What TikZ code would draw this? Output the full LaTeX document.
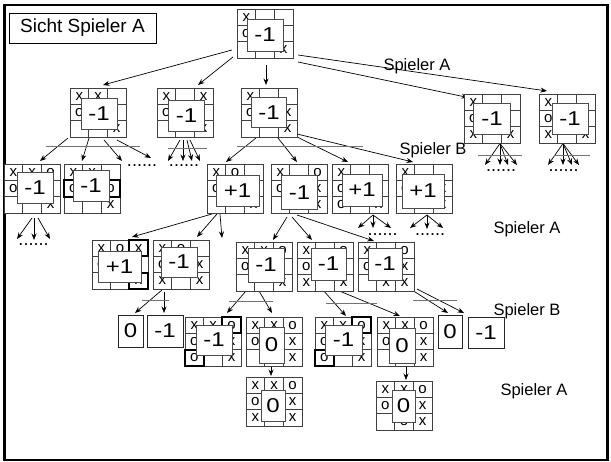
\documentclass[tikz,border=0pt]{standalone}
\usepackage{fontspec}
\usepackage{graphicx}
\setmainfont{Liberation Sans}
\usetikzlibrary{calc,arrows.meta}
\pgfdeclarelayer{bg}
\pgfsetlayers{bg,main}
\tikzset{
  board/.style={draw=black!75, fill=white, line width=0.8pt, minimum width=56pt, minimum height=49pt, inner sep=0pt, outer sep=0pt},
  gridln/.style={draw=black!75, line width=0.8pt},
  cellt/.style={font=\fontsize{15}{15}\selectfont, inner sep=0pt},
  thickcell/.style={draw=black, line width=1.8pt},
  ov/.style={draw=black!70, fill=white, line width=0.8pt, inner sep=0pt, font=\fontsize{20}{20}\selectfont},
  leaf/.style={draw=black!85, fill=white, line width=0.8pt, inner sep=0pt, font=\fontsize{20}{20}\selectfont},
  arr/.style={-{Stealth[length=6.5pt,width=5pt]}, line width=0.7pt},
  cutln/.style={draw=black!55, line width=1pt},
  dotsl/.style={font=\fontsize{18}{18}\selectfont, inner sep=0pt},
  lbl/.style={font=\fontsize{16.5}{16.5}\selectfont, inner sep=0pt}
}
\newcommand\vtxt[1]{\scalebox{1.2}[1]{#1}}
\newcommand\Bd[4]{%
  \node[board] (#1) at (#2+28,#3+24.5) {};
  \draw[gridln] (#2+56/3,#3) -- (#2+56/3,#3+49)
                (#2+112/3,#3) -- (#2+112/3,#3+49)
                (#2,#3+49/3) -- (#2+56,#3+49/3)
                (#2,#3+98/3) -- (#2+56,#3+98/3);
  \foreach \bR/\bC/\bL in {#4}{\node[cellt] at (#2+\bC*56/3+28/3,#3+\bR*49/3+49/6) {\bL};}%
}
\newcommand\Th[3]{\foreach \bR/\bC in {#3}{\draw[thickcell] (#1+\bC*56/3,#2+\bR*49/3) rectangle ++(56/3,49/3);}}
\newcommand\Ov[7]{\node[ov,minimum width=#6pt,minimum height=#7pt] (#1) at ($(#2)+(#4,#5)$) {\vtxt{#3}};}
\begin{document}
\begin{tikzpicture}[x=1pt,y=-1pt]
\useasboundingbox (0,0) rectangle (611,462);
\draw[line width=2.6pt] (4.5,5) rectangle (607.5,460);
\node[draw, line width=0.8pt, minimum width=147pt, minimum height=30pt, inner sep=0pt, font=\fontsize{19}{19}\selectfont] (title) at (82.5,28) {Sicht Spieler A};

% boards
\Bd{root}{237}{9}{0/0/x,1/0/o,2/2/x} \Ov{vroot}{root}{-1}{0}{1.5}{36}{32}
\Bd{n1a}{70}{88}{0/0/x,0/1/x,1/0/o,2/2/x} \Ov{v1a}{n1a}{-1}{1}{1}{36}{31}
\Bd{n1b}{157}{88}{0/0/x,0/2/x,1/0/o,2/2/x} \Ov{v1b}{n1b}{-1}{1.5}{3}{36}{31}
\Bd{n1c}{241}{88}{0/0/x,1/0/o,1/2/x,2/2/x} \Ov{v1c}{n1c}{-1}{0}{0}{35}{30}
\Bd{n1d}{464}{94}{0/0/x,1/0/o,2/0/x,2/2/x} \Ov{v1d}{n1d}{-1}{0}{0}{37}{31}
\Bd{n1e}{539}{94}{0/0/x,1/0/o,2/0/x,2/2/x} \Ov{v1e}{n1e}{-1}{3}{0}{36}{31}
\Bd{n2a}{4}{164}{0/0/x,0/1/x,0/2/o,1/0/o,2/2/x} \Ov{v2a}{n2a}{-1}{3}{-1}{36}{31}
\Bd{n2b}{64}{164}{0/0/x,0/1/x,1/0/o,1/2/o,2/2/x} \Th{64}{164}{1/0,1/2} \Ov{v2b}{n2b}{-1}{-1}{-3}{36}{31}
\Bd{n2c}{207}{164}{0/0/x,0/1/o,1/0/o,2/2/x} \Ov{v2c}{n2c}{+1}{2.5}{2}{43}{31}
\Bd{n2d}{271}{164}{0/0/x,0/2/o,1/0/o,1/2/x,2/2/x} \Ov{v2d}{n2d}{-1}{0.5}{4}{36}{34}
\Bd{n2e}{332}{164}{0/0/x,1/0/o,2/0/o,2/2/x} \Ov{v2e}{n2e}{+1}{2}{1.5}{40}{32}
\Bd{n2f}{396}{164}{0/0/x,1/0/o,1/2/x,2/1/o,2/2/x} \Ov{v2f}{n2f}{+1}{-1}{2.5}{42}{34}
\Bd{n3a}{92}{240}{0/0/x,0/1/o,0/2/x,1/0/o,2/2/x} \Th{92}{240}{0/2,2/2} \Ov{v3a}{n3a}{+1}{-0.5}{2}{43}{31}
\Bd{n3b}{153}{240}{0/0/x,0/1/o,1/0/o,1/2/x,2/0/x,2/2/x} \Ov{v3b}{n3b}{-1}{-2}{-2.5}{36}{30}
\Bd{n3c}{236}{242}{0/0/x,0/1/x,0/2/o,1/0/o,2/2/x} \Ov{v3c}{n3c}{-1}{2}{-1.5}{36}{34}
\Bd{n3d}{297}{242}{0/0/x,0/2/o,1/0/o,1/2/x,2/0/x,2/2/x} \Ov{v3d}{n3d}{-1}{3.5}{-2.5}{35}{32}
\Bd{n3e}{358}{242}{0/0/x,0/2/o,1/0/o,1/2/x,2/1/x,2/2/x} \Ov{v3e}{n3e}{-1}{-1}{-2.5}{34}{32}
\Bd{n4a}{185}{317}{0/0/x,0/1/x,0/2/o,1/0/o,1/2/x,2/0/o,2/2/x} \Th{185}{317}{0/2,2/0} \Ov{v4a}{n4a}{-1}{1}{-1.5}{36}{30}
\Bd{n4b}{246}{317}{0/0/x,0/1/x,0/2/o,1/0/o,1/2/x,2/1/o,2/2/x} \Ov{v4b}{n4b}{0}{-2.5}{3.5}{25}{36}
\Bd{n4c}{315}{317}{0/0/x,0/1/x,0/2/o,1/0/o,1/2/x,2/0/o,2/2/x} \Th{315}{317}{0/2,2/0} \Ov{v4c}{n4c}{-1}{0.5}{-1.5}{37}{30}
\Bd{n4d}{377}{317}{0/0/x,0/1/x,0/2/o,1/0/o,1/2/x,2/1/o,2/2/x} \Ov{v4d}{n4d}{0}{-3}{4}{26}{35}
\Bd{n5a}{246}{377}{0/0/x,0/1/x,0/2/o,1/0/o,1/2/x,2/0/x,2/1/o,2/2/x} \Ov{v5a}{n5a}{0}{-1}{4}{24}{31}
\Bd{n5b}{376}{381}{0/0/x,0/1/x,0/2/o,1/0/o,1/2/x,2/1/o,2/2/x} \Ov{v5b}{n5b}{0}{-0.5}{0.5}{23}{32}

% leaf values
\node[leaf,minimum width=25pt,minimum height=32pt] (l1) at (130.5,331) {\vtxt{0}};
\node[leaf,minimum width=36pt,minimum height=32pt] (l2) at (165,331) {\vtxt{-1}};
\node[leaf,minimum width=24pt,minimum height=33pt] (l3) at (450,331.5) {\vtxt{0}};
\node[leaf,minimum width=36pt,minimum height=31pt] (l4) at (486,332.5) {\vtxt{-1}};

% labels
\node[lbl] (sa1) at (417,66) {Spieler A};
\node[lbl] (sb1) at (433,150) {Spieler B};
\node[lbl] (sa2) at (527,229) {Spieler A};
\node[lbl] (sb2) at (527,311) {Spieler B};
\node[lbl] (sa3) at (534,391) {Spieler A};

% dots
\node[dotsl] (d1) at (142,166) {......};
\node[dotsl] (d2) at (184,166) {......};
\node[dotsl] (d3) at (501,171) {......};
\node[dotsl] (d4) at (563.5,171) {......};
\node[dotsl] (d5) at (33.5,245) {......};
\node[dotsl] (d6) at (382.5,235) {......};
\node[dotsl] (d7) at (430,235) {......};

% free ends
\coordinate (e1) at (122,161); \coordinate (e2) at (151,158);
\coordinate (e3) at (168,161); \coordinate (e4) at (183,161); \coordinate (e5) at (192,161); \coordinate (e6) at (200,161);
\coordinate (e7) at (485,165); \coordinate (e8) at (500,165); \coordinate (e9) at (508,165); \coordinate (e10) at (517,165);
\coordinate (e11) at (548,165); \coordinate (e12) at (563,165); \coordinate (e13) at (572,165); \coordinate (e14) at (579,165);
\coordinate (e15) at (17,239); \coordinate (e16) at (34,240); \coordinate (e17) at (50,239);
\coordinate (e18) at (222,238);
\coordinate (e19) at (358,228); \coordinate (e20) at (373,228); \coordinate (e21) at (391,228);
\coordinate (e22) at (410,228); \coordinate (e23) at (427,229); \coordinate (e24) at (443,228);

\begin{pgfonlayer}{bg}
% root
\draw[arr] ($(root)+(-33,16.5)$) -- ($(n1a)+(5,-27.5)$);
\draw[arr] ($(root)+(-32,23.5)$) -- ($(n1b)+(13,-27.5)$);
\draw[arr] ($(root)+(1,31.5)$) -- ($(n1c)+(-3,-27.5)$);
\draw[arr] ($(root)+(33,28.5)$) -- ($(n1d)+(-24,-21)$);
\draw[arr] ($(root)+(33,21.5)$) -- ($(n1e)+(-20,-27.5)$);
% 1a
\draw[arr] ($(n1a)+(-30,25.5)$) -- ($(n2a)+(8,-27.5)$);
\draw[arr] ($(n1a)+(-9,25.5)$) -- ($(n2b)+(-10,-27.5)$);
\draw[arr] ($(n1a)+(6,27.5)$) -- (e1);
\draw[arr] ($(n1a)+(19,27.5)$) -- (e2);
% 1b
\draw[arr] ($(n1b)+(-5,27.5)$) -- (e3);
\draw[arr] ($(n1b)+(-2,27.5)$) -- (e4);
\draw[arr] ($(n1b)+(2,27.5)$) -- (e5);
\draw[arr] ($(n1b)+(5,27.5)$) -- (e6);
% 1c
\draw[arr] ($(n1c)+(-13,25.5)$) -- ($(n2c)+(-9,-26.5)$);
\draw[arr] ($(n1c)+(9,25.5)$) -- ($(n2d)+(-2,-26.5)$);
\draw[arr] ($(n1c)+(28,24.5)$) -- ($(n2e)+(-12,-26.5)$);
\draw[arr] ($(n1c)+(28,21.5)$) -- ($(n2f)+(-11,-26.5)$);
% 1d, 1e
\foreach \t in {e7,e8,e9,e10} \draw[arr] ($(n1d)+(8,25)$) -- (\t);
\foreach \t in {e11,e12,e13,e14} \draw[arr] ($(n1e)+(-4,25)$) -- (\t);
% 2a
\draw[arr] ($(n2a)+(0,29.5)$) -- (e15);
\draw[arr] ($(n2a)+(2,29.5)$) -- (e16);
\draw[arr] ($(n2a)+(6,29.5)$) -- (e17);
% 2c
\draw[arr] ($(n2c)+(-23,25.5)$) -- ($(n3a)+(12,-27.5)$);
\draw[arr] ($(n2c)+(-18,25.5)$) -- ($(n3b)+(16,-27.5)$);
\draw[arr] ($(n2c)+(-15,25.5)$) -- (e18);
% 2d
\draw[arr] ($(n2d)+(-12,28.5)$) -- ($(n3c)+(9,-26.5)$);
\draw[arr] ($(n2d)+(-7,28.5)$) -- ($(n3d)+(-13,-26.5)$);
\draw[arr] ($(n2d)+(-2,26.5)$) -- ($(n3e)+(-12,-25.5)$);
% 2e, 2f
\foreach \t in {e19,e20,e21} \draw[arr] ($(n2e)+(13,26.5)$) -- (\t);
\foreach \t in {e22,e23,e24} \draw[arr] ($(n2f)+(3,26.5)$) -- (\t);
% 3b
\draw[arr] ($(n3b)+(-19,25.5)$) -- ($(l1)+(4.5,-18)$);
\draw[arr] ($(n3b)+(-17,27.5)$) -- ($(l2)+(-1,-18)$);
% 3c
\draw[arr] ($(n3c)+(-18,24.5)$) -- ($(n4a)+(14,-28.5)$);
\draw[arr] ($(n3c)+(-5,24.5)$) -- ($(n4b)+(-2,-28.5)$);
% 3d
\draw[arr] ($(n3d)+(-2,23.5)$) -- ($(n4c)+(3,-25.5)$);
\draw[arr] ($(n3d)+(12,23.5)$) -- ($(n4d)+(-5,-25.5)$);
% 3e
\draw[arr] ($(n3e)+(26,23.5)$) -- ($(l3)+(-2,-18.5)$);
\draw[arr] ($(n3e)+(31,22.5)$) -- ($(l4)+(-22,-19.5)$);
% 4b, 4d
\draw[arr] ($(n4b)+(-3,24.5)$) -- ($(n5a)+(-3,-25.5)$);
\draw[arr] ($(n4d)+(1,24.5)$) -- ($(n5b)+(2,-25.5)$);
% cut lines
\draw[cutln] (46,147) -- (140,147);
\draw[cutln] (168,149) -- (207,149);
\draw[cutln] (237,147) -- (363,147);
\draw[cutln] (478,156) -- (522,156);
\draw[cutln] (554,156) -- (590,156);
\draw[cutln] (142,301) -- (169,301);
\draw[cutln] (229,302) -- (273,302);
\draw[cutln] (326,304) -- (377,304);
\draw[cutln] (413,301) -- (457,301);
\end{pgfonlayer}
\end{tikzpicture}
\end{document}
